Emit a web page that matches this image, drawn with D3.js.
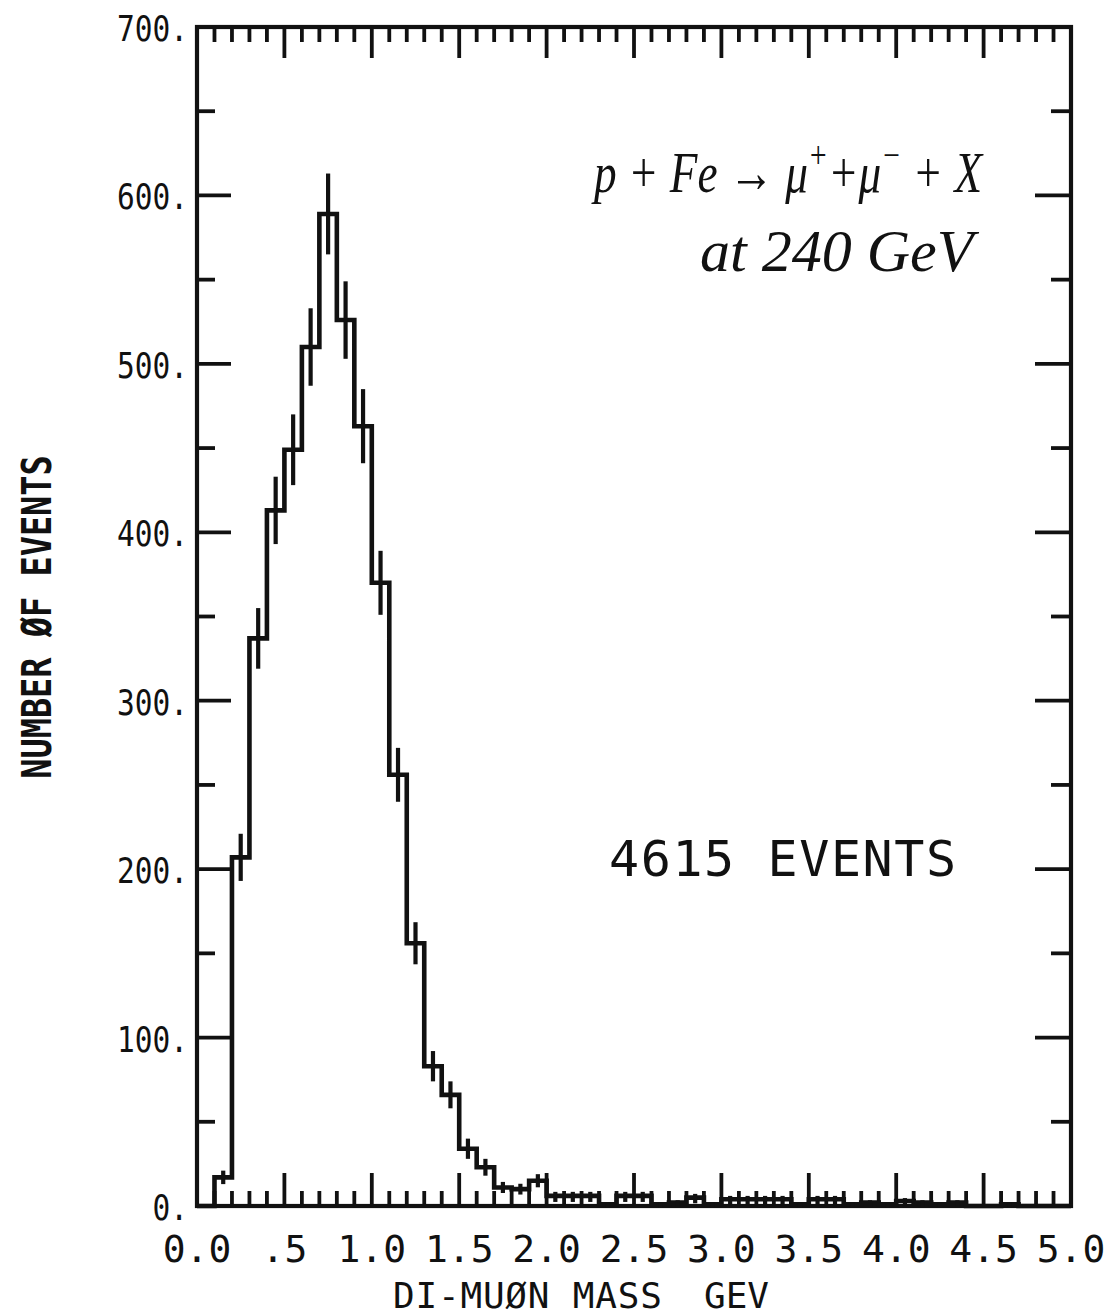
<!DOCTYPE html>
<html>
<head>
<meta charset="utf-8">
<script src="https://cdn.jsdelivr.net/npm/d3@7"></script>
<style>
  html, body { margin: 0; padding: 0; background: #fff; }
  svg { display: block; }
  .plot-text { font-family: "DejaVu Sans Mono", monospace; fill: #111; }
  .hand { font-family: "Liberation Serif", serif; font-style: italic; fill: #111; }
</style>
</head>
<body>
<script>
// Di-muon invariant mass spectrum, p + Fe at 240 GeV, 0.1 GeV bins from 0.0 to 5.0
const binLow = [0.0, 0.1, 0.2, 0.3, 0.4, 0.5, 0.6, 0.7, 0.8, 0.9,
                1.0, 1.1, 1.2, 1.3, 1.4, 1.5, 1.6, 1.7, 1.8, 1.9,
                2.0, 2.1, 2.2, 2.3, 2.4, 2.5, 2.6, 2.7, 2.8, 2.9,
                3.0, 3.1, 3.2, 3.3, 3.4, 3.5, 3.6, 3.7, 3.8, 3.9,
                4.0, 4.1, 4.2, 4.3, 4.4, 4.5, 4.6, 4.7, 4.8, 4.9];
const binWidth = 0.1;
const counts = [0, 17, 207, 337, 413, 449, 510, 589, 526, 463,
                370, 256, 156, 83, 66, 34, 23, 11, 10, 15,
                6, 6, 6, 1, 6, 6, 1, 2, 5, 1,
                4, 4, 4, 4, 1, 4, 4, 1, 2, 1,
                3, 2, 1, 2, 0, 0, 1, 0, 0, 0];
const errors = [0, 4, 14, 18, 20, 21, 23, 24, 23, 22,
                19, 16, 12.5, 9, 8, 6, 5, 3.3, 3.2, 3.9,
                2.4, 2.4, 2.4, 1, 2.4, 2.4, 1, 1.4, 2.2, 1,
                2, 2, 2, 2, 1, 2, 2, 1, 1.4, 1,
                1.7, 1.4, 1, 1.4, 0, 0, 1, 0, 0, 0];

const xTickValues = [0.0, 0.5, 1.0, 1.5, 2.0, 2.5, 3.0, 3.5, 4.0, 4.5, 5.0];
const xTickLabels = ["0.0", ".5", "1.0", "1.5", "2.0", "2.5", "3.0", "3.5", "4.0", "4.5", "5.0"];
const yTickValues = [0, 100, 200, 300, 400, 500, 600, 700];
const yTickLabels = ["0.", "100.", "200.", "300.", "400.", "500.", "600.", "700."];

const W = 1108, H = 1316;
const svg = d3.select("body").append("svg").attr("width", W).attr("height", H);

const x = d3.scaleLinear().domain([0, 5]).range([197, 1071]);
const y = d3.scaleLinear().domain([0, 700]).range([1206, 27]);

const ink = "#111";
const g = svg.append("g");

// Frame ticks: minor every 0.1 GeV / 50 events, major every 0.5 GeV / 100 events
const xMinor = d3.range(1, 50).map(i => i / 10).filter(v => Math.round(v * 10) % 5 !== 0);
const xMajor = xTickValues.slice(1, -1);
const yMinor = d3.range(50, 700, 100);
const yMajor = yTickValues.slice(1, -1);

function ticks(vals, len, orient) {
  const horiz = orient === "top" || orient === "bottom";
  g.append("g").selectAll("line").data(vals).join("line")
    .attr("x1", d => horiz ? x(d) : (orient === "left" ? x(0) : x(5)))
    .attr("x2", d => horiz ? x(d) : (orient === "left" ? x(0) + len : x(5) - len))
    .attr("y1", d => !horiz ? y(d) : (orient === "top" ? y(700) : y(0)))
    .attr("y2", d => !horiz ? y(d) : (orient === "top" ? y(700) + len : y(0) - len))
    .attr("stroke", ink).attr("stroke-width", 3.8);
}
ticks(xMinor, 15, "top");
ticks(xMajor, 31, "top");
ticks(xMinor, 15, "bottom");
ticks(xMajor, 33, "bottom");
ticks(yMinor, 18, "left");
ticks(yMajor, 34, "left");
ticks(yMinor, 20, "right");
ticks(yMajor, 36, "right");

// Frame
g.append("rect")
  .attr("x", x(0)).attr("y", y(700))
  .attr("width", x(5) - x(0)).attr("height", y(0) - y(700))
  .attr("fill", "none").attr("stroke", ink).attr("stroke-width", 4.2);

// Histogram outline
const stepPts = [];
binLow.forEach((lo, i) => {
  stepPts.push([lo, counts[i]]);
  stepPts.push([lo + binWidth, counts[i]]);
});
const line = d3.line().x(d => x(d[0])).y(d => y(d[1]));
g.append("path").datum(stepPts)
  .attr("d", line)
  .attr("fill", "none").attr("stroke", ink).attr("stroke-width", 4.6)
  .attr("stroke-linejoin", "miter");

// Statistical error bars at bin centres
const bars = binLow.map((lo, i) => ({ c: lo + binWidth / 2, v: counts[i], e: errors[i] }))
  .filter(d => d.v > 0);
g.append("g").selectAll("line").data(bars).join("line")
  .attr("x1", d => x(d.c)).attr("x2", d => x(d.c))
  .attr("y1", d => y(d.v + d.e)).attr("y2", d => y(d.v - d.e) + (d.e < 3 ? 2 : 0))
  .attr("stroke", ink).attr("stroke-width", 4.2);

// Tick labels
g.append("g").selectAll("text").data(xTickValues).join("text")
  .attr("class", "plot-text")
  .attr("x", d => x(d)).attr("y", 1262)
  .attr("text-anchor", "middle")
  .attr("font-size", 38)
  .text((d, i) => xTickLabels[i]);

g.append("g").selectAll("text").data(yTickValues).join("text")
  .attr("class", "plot-text")
  .attr("transform", d => `translate(188,${y(d) + 14}) scale(0.82,1)`)
  .attr("text-anchor", "end")
  .attr("font-size", 36)
  .text((d, i) => yTickLabels[i]);

// Axis titles
g.append("text").attr("class", "plot-text")
  .attr("x", 393).attr("y", 1308).attr("font-size", 36).attr("letter-spacing", 0.8)
  .text("DI-MUØN MASS");
g.append("text").attr("class", "plot-text")
  .attr("x", 704).attr("y", 1308).attr("font-size", 36)
  .text("GEV");

g.append("text").attr("class", "plot-text")
  .attr("transform", "translate(51,617) rotate(-90) scale(0.84,1)")
  .attr("text-anchor", "middle")
  .attr("font-size", 40).style("font-weight", "bold")
  .text("NUMBER ØF EVENTS");

// Annotations
g.append("text").attr("class", "plot-text")
  .attr("x", 609).attr("y", 876).attr("font-size", 50).attr("letter-spacing", 1.6)
  .text("4615 EVENTS");

const r1 = g.append("text").attr("class", "hand")
  .attr("transform", "translate(594,192) scale(0.78,1)")
  .attr("font-size", 58);
r1.append("tspan").text("p + Fe → μ");
r1.append("tspan").attr("dy", -24).attr("font-size", 38).text("+");
r1.append("tspan").attr("dy", 24).text("+μ");
r1.append("tspan").attr("dy", -24).attr("font-size", 38).text("−");
r1.append("tspan").attr("dy", 24).text(" + X");

g.append("text").attr("class", "hand")
  .attr("x", 700).attr("y", 271)
  .attr("font-size", 60)
  .text("at 240 GeV");
</script>
</body>
</html>
